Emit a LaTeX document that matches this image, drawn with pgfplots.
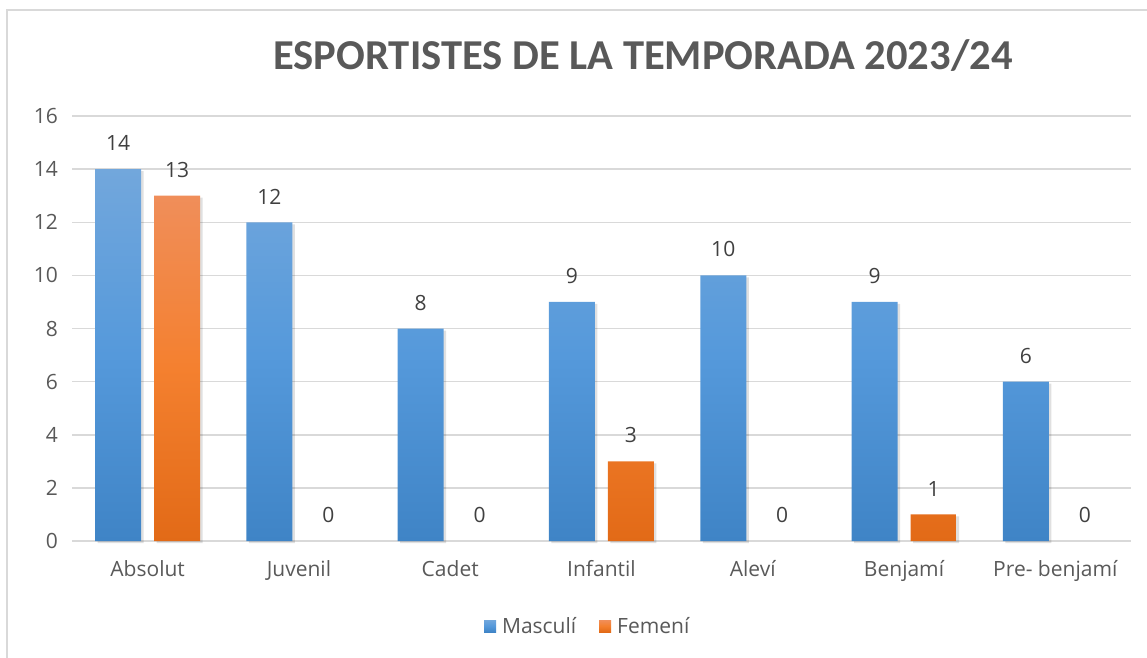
\documentclass[border=0pt]{standalone}
\usepackage{fontspec}
\setmainfont{Open Sans}
\newfontfamily\titlefont{Carlito}
\usepackage{pgfplots}
\pgfplotsset{compat=1.18}
\definecolor{txt}{HTML}{595959}
\definecolor{lbl}{HTML}{404040}
\definecolor{gridgray}{HTML}{D9D9D9}
\definecolor{blueT}{HTML}{72A7DC}
\definecolor{blueM}{HTML}{5599DB}
\definecolor{blueB}{HTML}{3F84C6}
\definecolor{oranT}{HTML}{F08E5A}
\definecolor{oranM}{HTML}{F4802F}
\definecolor{oranB}{HTML}{E26A17}

\begin{document}
\begin{tikzpicture}
\path[use as bounding box] (-72pt,-116pt) rectangle (1075pt,541pt);
\draw[color=gridgray, line width=1.5pt] (-65pt,531pt) rectangle (1090pt,-130pt);
\node[font=\titlefont\bfseries\fontsize{42.6}{46}\selectfont, text=txt] at (571pt,485pt)
  {ESPORTISTES DE LA TEMPORADA 2023/24};
\begin{axis}[
    at={(0pt,0pt)}, anchor=south west,
    scale only axis, width=1059pt, height=425pt,
    xmin=-0.5, xmax=6.5, ymin=0, ymax=16,
    ytick={0,2,...,16},
    xtick={0,...,6},
    xticklabels={Absolut,Juvenil,Cadet,Infantil,Aleví,Benjamí,Pre- benjamí},
    /pgf/number format/assume math mode=true,
    axis line style={draw=none},
    major tick style={draw=none},
    ymajorgrids,
    grid style={color=gridgray, line width=1.5pt},
    ticklabel style={font=\fontsize{21}{24}\selectfont, text=txt, inner sep=0pt},
    xticklabel style={anchor=base, yshift=-35pt},
    yticklabel style={anchor=east, xshift=-14pt},
    legend style={at={(0.487,-0.2)}, anchor=center, draw=none,
        font=\fontsize{21}{24}\selectfont, text=txt,
        /tikz/every odd column/.append style={column sep=4pt},
        /tikz/every even column/.append style={column sep=21pt}},
    legend columns=2,
    legend cell align=left,
    clip=false,
]
% shadows
\addplot[ybar, bar width=46pt, bar shift=-27pt, draw=none, fill=black, fill opacity=0.12,
    yshift=-2pt, forget plot]
  coordinates {(0,14) (1,12) (2,8) (3,9) (4,10) (5,9) (6,6)};
\addplot[ybar, bar width=46pt, bar shift=32pt, draw=none, fill=black, fill opacity=0.12,
    yshift=-2pt, forget plot]
  coordinates {(0,13) (3,3) (5,1)};
% Masculí
\addplot[ybar, bar width=46pt, bar shift=-29.5pt, draw=none,
    top color=blueT, bottom color=blueB, middle color=blueM,
    nodes near coords,
    nodes near coords style={font=\fontsize{21}{24}\selectfont, text=lbl, inner sep=0pt,
        xshift=-29.5pt, yshift=18pt},
    legend image code/.code={\path[top color=blueT, bottom color=blueB, middle color=blueM] (0pt,-6pt) rectangle (12pt,6pt);}]
  coordinates {(0,14) (1,12) (2,8) (3,9) (4,10) (5,9) (6,6)};
\addlegendentry{Masculí}
% Femení
\addplot[ybar, bar width=46pt, bar shift=29.5pt, draw=none,
    top color=oranT, bottom color=oranB, middle color=oranM,
    legend image code/.code={\path[top color=oranT, bottom color=oranB, middle color=oranM] (0pt,-6pt) rectangle (12pt,6pt);}]
  coordinates {(0,13) (3,3) (5,1)};
\addlegendentry{Femení}
% Femení labels (incl. zeros)
\addplot[ybar, bar width=46pt, bar shift=29.5pt, draw=none, fill=none, forget plot,
    nodes near coords,
    nodes near coords style={font=\fontsize{21}{24}\selectfont, text=lbl, inner sep=0pt,
        xshift=29.5pt, yshift=18pt}]
  coordinates {(0,13) (1,0) (2,0) (3,3) (4,0) (5,1) (6,0)};
\end{axis}
\end{tikzpicture}
\end{document}
